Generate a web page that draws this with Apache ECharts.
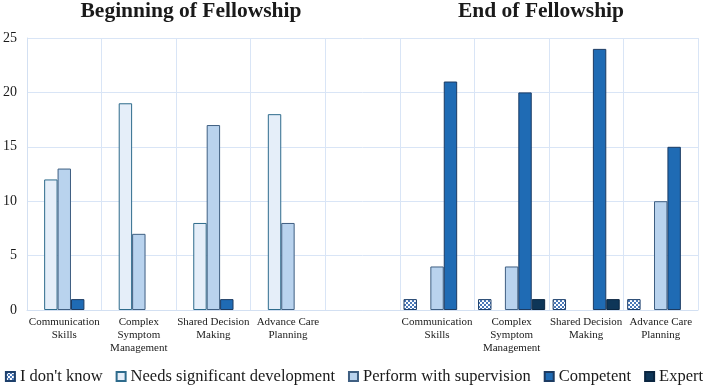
<!DOCTYPE html>
<html>
<head>
<meta charset="utf-8">
<script src="https://cdn.jsdelivr.net/npm/echarts@6/dist/echarts.min.js"></script>
<style>
  html, body { margin: 0; padding: 0; background: #fff; }
  #chart { width: 708px; height: 390px; }
</style>
</head>
<body>
<div id="chart"></div>
<script>
// categories: 4 beginning + a blank spacer + 4 end
var categories = [
    'Communication\nSkills', 'Complex\nSymptom\nManagement', 'Shared Decision\nMaking', 'Advance Care\nPlanning',
    '',
    'Communication\nSkills', 'Complex\nSymptom\nManagement', 'Shared Decision\nMaking', 'Advance Care\nPlanning'
];
var seriesNames = ["I don't know", 'Needs significant development', 'Perform with supervision', 'Competent', 'Expert'];
var dontKnow   = [0, 0, 0, 0, null, 1, 1, 1, 1];
var needsDev   = [12, 19, 8, 18, null, 0, 0, 0, 0];
var supervised = [13, 7, 17, 8, null, 4, 4, 0, 10];
var competent  = [1, 0, 1, 0, null, 21, 20, 24, 15];
var expert     = [0, 0, 0, 0, null, 0, 1, 1, 0];
var yTicks = [0, 5, 10, 15, 20, 25];

// 棋盘格填充，用于 "I don't know"
function checkerPattern() {
    var c = document.createElement('canvas');
    c.width = 4; c.height = 4;
    var ctx = c.getContext('2d');
    ctx.fillStyle = '#ffffff';
    ctx.fillRect(0, 0, 4, 4);
    ctx.fillStyle = '#4a78b8';
    ctx.fillRect(0, 0, 2, 2);
    ctx.fillRect(2, 2, 2, 2);
    return { image: c, repeat: 'repeat' };
}

// 0 不画
function clean(arr) {
    return arr.map(function (v) { return v === 0 || v === null ? '-' : v; });
}

window.onload = function () {
    var font = '"Liberation Serif", "Times New Roman", serif';
    var styles = [
        { color: checkerPattern(), borderColor: '#1d3f6b', borderWidth: 1 },
        { color: '#e5eef9', borderColor: '#2e6b8c', borderWidth: 1 },
        { color: '#b9d3ee', borderColor: '#3f5f82', borderWidth: 1 },
        { color: '#1f6bb4', borderColor: '#1c3b62', borderWidth: 1 },
        { color: '#0e3658', borderColor: '#0a2540', borderWidth: 1 }
    ];
    var data = [dontKnow, needsDev, supervised, competent, expert];
    var series = seriesNames.map(function (name, i) {
        return {
            name: name,
            type: 'bar',
            barGap: '0%',
            barCategoryGap: '10%',
            itemStyle: styles[i],
            data: clean(data[i])
        };
    });

    var titleStyle = { fontFamily: font, fontSize: 21.5, fontWeight: 'bold', color: '#1a1a1a' };

    echarts.init(document.getElementById('chart')).setOption({
        animation: false,
        textStyle: { fontFamily: font },
        title: [
            { text: 'Beginning of Fellowship', left: 191, top: 0, padding: 0, textAlign: 'center', textStyle: titleStyle },
            { text: 'End of Fellowship', left: 541, top: 0, padding: 0, textAlign: 'center', textStyle: titleStyle }
        ],
        legend: {
            bottom: 5,
            left: 'center',
            padding: 0,
            itemWidth: 9,
            itemHeight: 9,
            itemGap: 13,
            icon: 'rect',
            textStyle: { fontFamily: font, fontSize: 16.5, color: '#1a1a1a' },
            data: seriesNames
        },
        grid: { left: 24, right: 10, top: 38, bottom: 80, containLabel: false },
        xAxis: {
            type: 'category',
            data: categories,
            axisLine: { lineStyle: { color: '#d3e0f2' } },
            axisTick: { show: false },
            splitLine: { show: true, interval: 0, lineStyle: { color: '#d9e5f6' } },
            axisLabel: { interval: 0, fontFamily: font, fontSize: 11, color: '#1a1a1a', lineHeight: 13, margin: 6 }
        },
        yAxis: {
            type: 'value',
            min: yTicks[0],
            max: yTicks[yTicks.length - 1],
            interval: 5,
            axisLine: { show: true, lineStyle: { color: '#d3e0f2' } },
            splitLine: { lineStyle: { color: '#d9e5f6' } },
            axisLabel: { fontFamily: font, fontSize: 14, color: '#1a1a1a', margin: 10 }
        },
        series: series
    });
};
</script>
</body>
</html>
